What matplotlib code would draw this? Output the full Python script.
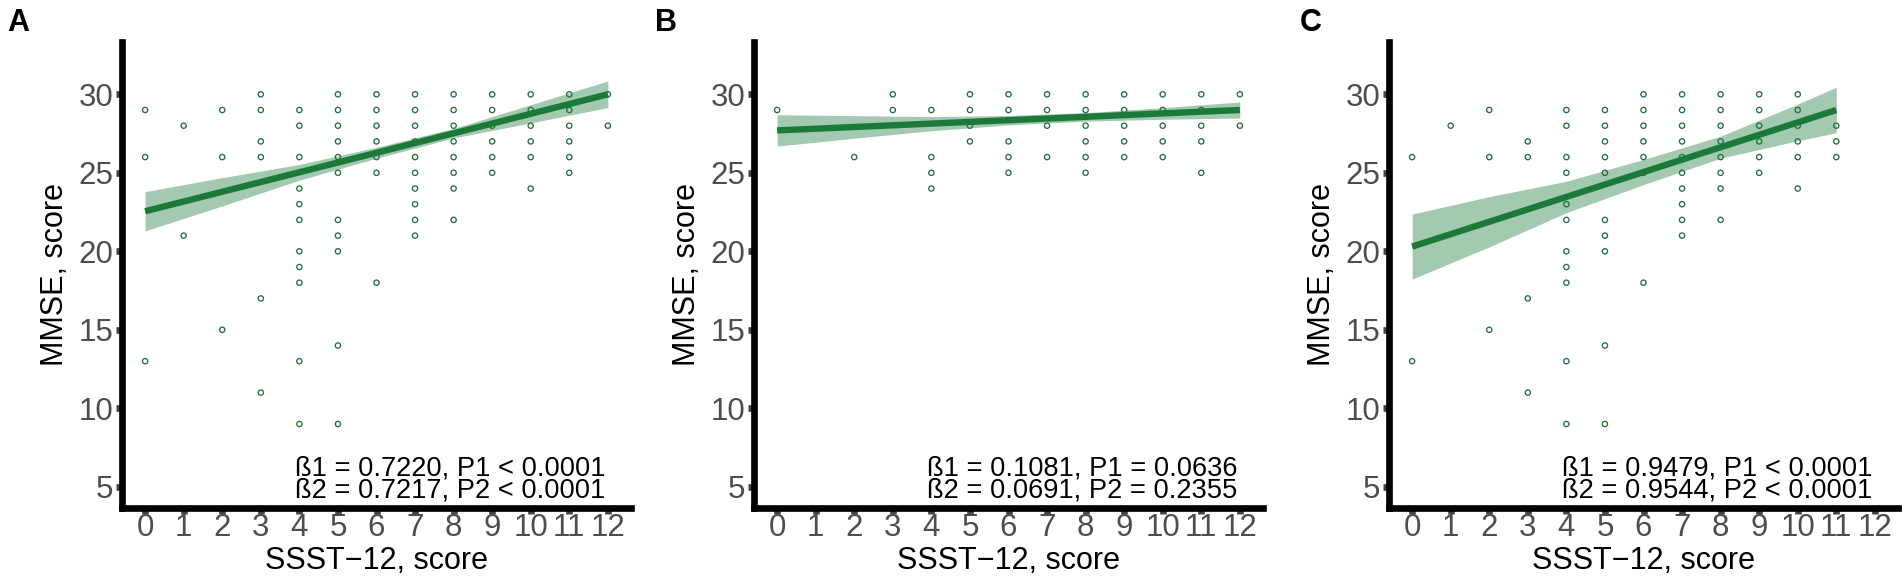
import numpy as np
import matplotlib
matplotlib.use("Agg")
import matplotlib.pyplot as plt

plt.rcParams['font.family'] = ['Liberation Sans', 'DejaVu Sans']

sst_ticks = list(range(13))
mmse_ticks = [5, 10, 15, 20, 25, 30]

# MMSE scores seen at each SSST-12 score (one dict per panel)
mmse_a = {0: [29, 26, 13], 1: [28, 21], 2: [29, 26, 15], 3: [30, 29, 27, 26, 17, 11],
          4: [29, 28, 26, 24, 23, 22, 20, 19, 18, 13, 9],
          5: [30, 29, 28, 27, 26, 25, 22, 21, 20, 14, 9],
          6: [30, 29, 28, 27, 26, 25, 18], 7: [30, 29, 28, 27, 26, 25, 24, 23, 22, 21],
          8: [30, 29, 28, 27, 26, 25, 24, 22], 9: [30, 29, 28, 27, 26, 25],
          10: [30, 29, 28, 27, 26, 24], 11: [30, 29, 28, 27, 26, 25], 12: [30, 28]}
mmse_b = {0: [29], 2: [26], 3: [30, 29], 4: [29, 26, 25, 24], 5: [30, 29, 28, 27],
          6: [30, 29, 27, 26, 25], 7: [30, 29, 28, 26], 8: [30, 29, 28, 27, 26, 25],
          9: [30, 29, 28, 27, 26], 10: [30, 29, 28, 27, 26], 11: [30, 29, 28, 27, 25],
          12: [30, 28]}
mmse_c = {0: [26, 13], 1: [28], 2: [29, 26, 15], 3: [27, 26, 17, 11],
          4: [29, 28, 26, 25, 23, 22, 20, 19, 18, 13, 9],
          5: [29, 28, 27, 26, 25, 22, 21, 20, 14, 9],
          6: [30, 29, 28, 27, 26, 25, 18], 7: [30, 29, 28, 27, 26, 25, 24, 23, 22, 21],
          8: [30, 29, 28, 27, 26, 25, 24, 22], 9: [30, 29, 28, 27, 26, 25],
          10: [30, 29, 28, 27, 26, 24], 11: [28, 27, 26]}

# fitted lines and their confidence bands
fit_a_x = [0, 12]
fit_a_y = [22.55, 30.0]
ci_a_x = [0, 2, 4, 6, 8, 10, 12]
ci_a_lo = [21.30, 22.89, 24.53, 25.93, 27.22, 28.18, 29.15]
ci_a_hi = [23.80, 24.69, 25.53, 26.63, 27.82, 29.34, 30.85]

fit_b_x = [0, 12]
fit_b_y = [27.70, 29.0]
ci_b_x = [0, 2, 4, 6, 8, 10, 12]
ci_b_lo = [26.70, 27.20, 27.68, 28.05, 28.29, 28.41, 28.49]
ci_b_hi = [28.70, 28.64, 28.58, 28.65, 28.83, 29.15, 29.51]

fit_c_x = [0, 11]
fit_c_y = [20.30, 29.0]
ci_c_x = [0, 2, 4, 6, 8, 10, 11]
ci_c_lo = [18.23, 20.28, 22.46, 24.25, 25.93, 27.04, 27.55]
ci_c_hi = [22.37, 23.48, 24.46, 25.85, 27.33, 29.38, 30.45]

notes_a = ["ß1 = 0.7220, P1 < 0.0001", "ß2 = 0.7217, P2 < 0.0001"]
notes_b = ["ß1 = 0.1081, P1 = 0.0636", "ß2 = 0.0691, P2 = 0.2355"]
notes_c = ["ß1 = 0.9479, P1 < 0.0001", "ß2 = 0.9544, P2 < 0.0001"]

panel_tags = ["A", "B", "C"]

line_col = "#1b7a3a"
pt_col = "#24703a"

W, H = 1902, 586
fig = plt.figure(figsize=(W / 100, H / 100), dpi=100)


def draw_panel(left_px, pts, fx, fy, cx, clo, chi, notes):
    ax = fig.add_axes([left_px / W, (H - 508) / H, 509 / W, 466.3 / H])
    xs = [x for x, ys in pts.items() for _ in ys]
    ys = [y for x, ys in pts.items() for y in ys]
    ax.scatter(xs, ys, s=3.8 ** 2, facecolors='none', edgecolors=pt_col,
               linewidths=0.95, zorder=2)
    ax.fill_between(cx, clo, chi, color=line_col, alpha=0.4, lw=0, zorder=3)
    ax.plot(fx, fy, color=line_col, lw=4.6, solid_capstyle='butt', zorder=4)

    ax.set_xlim(-0.6, 12.6)
    ax.set_ylim(3.65, 33.35)
    ax.set_xticks(sst_ticks)
    ax.set_yticks(mmse_ticks)
    for s in ['top', 'right']:
        ax.spines[s].set_visible(False)
    for s in ['left', 'bottom']:
        ax.spines[s].set_linewidth(4.8)
        ax.spines[s].set_color('black')
    ax.tick_params(length=4.5, width=4.8, color='#444444', labelcolor='#4d4d4d',
                   labelsize=22.5, pad=1.8)
    ax.tick_params(axis='x', pad=-0.6)
    ax.set_xlabel("SSST\u221212, score", fontsize=22, labelpad=2)
    ax.set_ylabel("MMSE, score", fontsize=22, labelpad=6)

    ax.text(3.88, 5.75, notes[0], fontsize=19.6, ha='left', va='baseline', zorder=5)
    ax.text(3.88, 4.34, notes[1], fontsize=19.6, ha='left', va='baseline', zorder=5)
    return ax


draw_panel(122, mmse_a, fit_a_x, fit_a_y, ci_a_x, ci_a_lo, ci_a_hi, notes_a)
draw_panel(754, mmse_b, fit_b_x, fit_b_y, ci_b_x, ci_b_lo, ci_b_hi, notes_b)
draw_panel(1389, mmse_c, fit_c_x, fit_c_y, ci_c_x, ci_c_lo, ci_c_hi, notes_c)

for tag, xpx in zip(panel_tags, [7, 655, 1300]):
    fig.text(xpx / W, 1 - 8 / H, tag, fontsize=22, fontweight='bold', ha='left', va='top')

fig.savefig("out.png", dpi=100)
